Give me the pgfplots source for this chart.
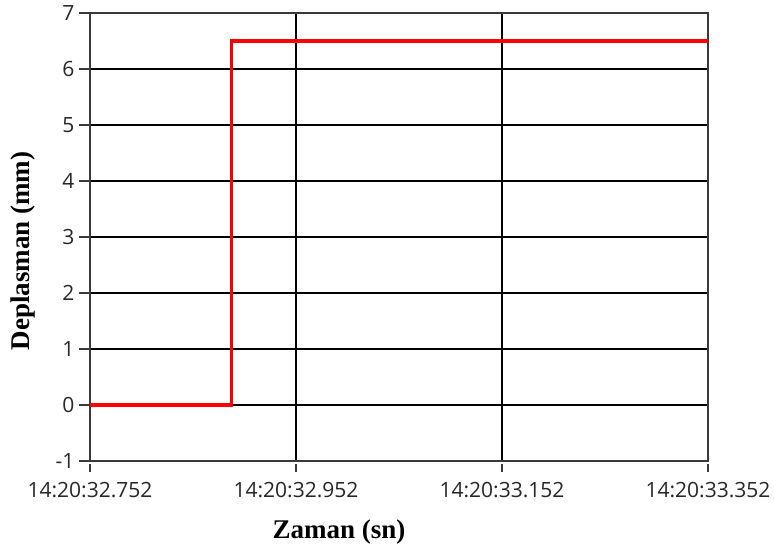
\documentclass[border=0pt]{standalone}
\usepackage{pgfplots}
\pgfplotsset{compat=1.18}
\usepackage{fontspec}
\setmainfont{Liberation Serif}
\newfontfamily\ticksans{Open Sans}
\definecolor{axisgray}{HTML}{3A3A3A}

\begin{document}
\begin{tikzpicture}[x=1pt,y=1pt]
% fixed page frame around the plot area
\useasboundingbox (-90,-89) rectangle (684,461);
\begin{axis}[
  at={(0,0)}, anchor=south west,
  scale only axis,
  width=618pt, height=448pt,
  xmin=0, xmax=0.6,
  ymin=-1, ymax=7,
  xtick={0,0.2,0.4,0.6},
  xticklabels={14:20:32.752,14:20:32.952,14:20:33.152,14:20:33.352},
  ytick={-1,0,...,7},
  xtick pos=bottom, ytick pos=left,
  grid=major,
  major grid style={black, line width=1.6pt},
  axis line style={axisgray, line width=2.2pt},
  tick align=outside,
  major tick length=11pt,
  % x ticks stand a little apart from the frame
  xtick style={axisgray, line width=1.6pt,
    dash pattern=on 8pt off 20pt},
  ytick style={axisgray, line width=1.6pt},
  /pgf/number format/assume math mode=true,
  ticklabel style={font=\ticksans\fontsize{21}{24}\selectfont, text=black!85},
  xticklabel style={yshift=-7pt},
  yticklabel style={xshift=-1pt},
  xlabel={\textbf{Zaman (sn)}},
  ylabel={\textbf{Deplasman (mm)}},
  label style={font=\fontsize{27}{30}\selectfont},
  xlabel style={at={(axis description cs:0.403,-0.1719)}, anchor=base},
  ylabel style={at={(axis description cs:-0.1084,0.469)}, anchor=center},
]
\addplot[red, line width=3.2pt, line join=miter] coordinates {
  (0,0) (0.1375,0) (0.1375,6.5) (0.6,6.5)
};
\end{axis}
\end{tikzpicture}
\end{document}
